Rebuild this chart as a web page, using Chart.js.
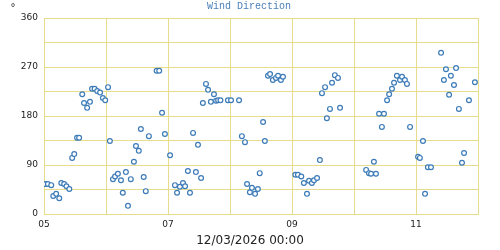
<!DOCTYPE html>
<html lang="en">
<head>
    <meta charset="UTF-8">
    <title>Wind Direction</title>
    <script src="https://cdn.jsdelivr.net/npm/chart.js"></script>
    <style>
        body { margin: 0; background: #fff; }
    </style>
</head>
<body>
<canvas id="windChart" width="500" height="250"></canvas>

<script>
    // hours since 05/03 00:00
    const hours = [
        0.6, 1.5, 2.8, 3.6, 4.7, 5.9, 6.7, 7.8, 8.7, 9.8, 10.9, 11.7, 12.8, 13.6, 14.8, 15.5, 16.7, 17.8,
        18.6, 19.6, 20.6, 21.7, 22.8, 23.7, 24.8, 25.5, 26.7, 27.5, 28.6, 29.8, 30.5, 31.7, 32.5, 33.6,
        34.8, 35.6, 36.7, 37.5, 38.6, 39.4, 40.6,
        43.6, 44.6, 45.7, 46.8, 48.8, 50.7, 51.5, 52.6, 53.8, 54.6, 55.7, 56.5, 57.7, 58.8, 59.6, 60.8,
        61.5, 62.7, 63.5, 64.6, 65.8, 66.6, 67.4, 68.3, 71.2, 72.4, 75.5, 76.6, 77.8, 78.6, 79.7, 80.5,
        81.7, 82.8, 83.5,
        84.8, 85.5, 86.7, 87.5, 88.6, 89.8, 90.6, 91.7, 92.5, 97.3, 98.3, 99.6, 100.6, 101.8, 102.6,
        103.7, 104.5, 105.7, 106.8, 107.6, 108.8, 109.5, 110.7, 111.5, 112.6, 113.8, 114.6,
        124.7, 125.8, 126.6, 127.7, 128.5, 129.7, 130.8, 131.6, 132.8, 133.6, 134.7, 135.5, 136.6,
        137.8, 138.6, 139.7, 140.5, 141.7, 144.8, 145.5, 146.7, 147.5, 148.6, 149.8, 153.7, 154.8,
        155.6, 156.8, 157.5, 158.7, 159.5, 160.6, 161.8, 162.6, 164.5, 166.8
    ];
    // degrees
    const direction = [
        55, 55, 53, 33, 37, 29, 57, 55, 51, 46, 103, 110, 140, 140, 220, 204, 195, 206,
        230, 230, 226, 223, 213, 209, 233, 134, 64, 69, 74, 62, 39, 77, 15, 64,
        96, 125, 116, 156, 68, 42, 143,
        263, 263, 186, 147, 108, 53, 39, 50, 57, 51, 79, 39, 149, 77, 127, 66,
        204, 239, 228, 206, 220, 208, 209, 209, 209, 209, 209, 143, 132, 55, 40, 48,
        37, 46, 75,
        169, 134, 254, 257, 246, 250, 254, 246, 252, 72, 72, 69, 57, 37, 61,
        57, 62, 66, 99, 222, 233, 176, 193, 241, 255, 250, 195,
        81, 75, 74, 96, 74, 184, 160, 184, 209, 220, 230, 241, 254,
        246, 252, 246, 239, 160, 105, 103, 134, 37, 86, 86, 296, 246,
        266, 219, 254, 237, 268, 193, 94, 112, 209, 242
    ];
    const dayLabels = ['05', '06', '07', '08', '09', '10', '11', '12'];
    const yLabels = [0, 90, 180, 270, 360];

    const points = hours.map((h, i) => ({ x: h, y: direction[i] }));

    // texts outside the plot area
    const extraText = {
        id: 'extraText',
        afterDraw(chart) {
            const ctx = chart.ctx;
            ctx.save();
            ctx.textAlign = 'center';
            ctx.textBaseline = 'middle';
            ctx.fillStyle = '#4a80ba';
            ctx.font = '10px "Liberation Mono"';
            ctx.fillText('Wind Direction', 249, 6);
            ctx.fillStyle = '#222';
            ctx.textBaseline = 'alphabetic';
            ctx.font = '10px "DejaVu Sans"';
            ctx.fillText('°', 13, 11);
            ctx.textBaseline = 'middle';
            ctx.font = '12px "DejaVu Sans"';
            ctx.fillText('12/03/2026 00:00', 250, 241);
            ctx.restore();
        }
    };

    const gridColor = '#e6dc8c';

    new Chart(document.getElementById('windChart'), {
        type: 'scatter',
        data: {
            datasets: [{
                label: 'Wind Direction',
                data: points,
                pointRadius: 2.4,
                pointBorderWidth: 1.2,
                borderColor: '#3c7bb8',
                backgroundColor: '#ffffff',
                pointHoverRadius: 2.4
            }]
        },
        options: {
            responsive: false,
            animation: false,
            layout: { padding: { top: 18, right: 22, left: 0, bottom: 0 } },
            plugins: {
                legend: { display: false },
                tooltip: { enabled: false }
            },
            scales: {
                x: {
                    type: 'linear',
                    min: 0,
                    max: 168,
                    afterFit: s => { s.height = 36; },
                    grid: { color: gridColor, drawTicks: false },
                    border: { color: gridColor },
                    ticks: {
                        stepSize: 24,
                        padding: 5,
                        color: '#222',
                        font: { family: 'DejaVu Sans', size: 9 },
                        maxRotation: 0,
                        autoSkip: false,
                        callback: v => (v % 48 === 0 ? dayLabels[v / 24] : '')
                    }
                },
                y: {
                    min: 0,
                    max: 360,
                    afterFit: s => { s.width = 44; },
                    grid: { color: gridColor, drawTicks: false },
                    border: { color: gridColor },
                    ticks: {
                        stepSize: 45,
                        padding: 6,
                        color: '#222',
                        font: { family: 'DejaVu Sans', size: 9 },
                        callback: v => (yLabels.includes(v) ? String(v) : '')
                    }
                }
            }
        },
        plugins: [extraText]
    });
</script>
</body>
</html>
